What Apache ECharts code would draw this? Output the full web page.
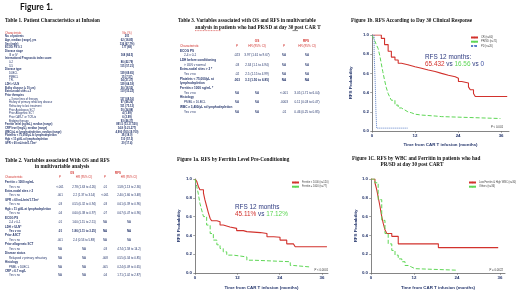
<!DOCTYPE html>
<html>
<head>
<meta charset="utf-8">
<script src="https://cdn.jsdelivr.net/npm/echarts@6/dist/echarts.min.js"></script>
<style>
html, body { margin: 0; padding: 0; background: #fff; }
#chart { width: 520px; height: 297px; }
</style>
</head>
<body>
<div id="chart"></div>
<script>
// Kaplan-Meier points (months, RFS probability)
var crTime = [0, 1.7, 2.6, 3.5, 4.5, 5.4, 6.4, 7.3, 8.2, 10, 12, 13.8, 15.7, 17.6, 19.4, 21.3, 23.2, 24.1, 25, 26.9, 27.4, 28.3, 28.8, 37.7];
var crProb = [1.0, 1.0, 0.965, 0.9, 0.83, 0.77, 0.74, 0.705, 0.69, 0.67, 0.654, 0.635, 0.62, 0.60, 0.58, 0.565, 0.55, 0.515, 0.50, 0.46, 0.43, 0.39, 0.36, 0.36];
var prsdTime = [0, 0.4, 0.75, 1.2, 1.7, 2.2, 2.6, 3.0, 3.5, 4.0, 4.5, 5.0, 5.4, 6.4, 7.3, 8.2, 9.1, 10, 11, 12, 13.8, 17.6, 19.4, 35.8];
var prsdProb = [1.0, 0.97, 0.94, 0.9, 0.86, 0.78, 0.70, 0.62, 0.53, 0.45, 0.39, 0.35, 0.32, 0.27, 0.24, 0.22, 0.2, 0.19, 0.175, 0.166, 0.156, 0.15, 0.13, 0.13];
var pdTime = [0, 0.6, 0.9, 1.1, 1.3, 10];
var pdProb = [1.0, 0.8, 0.5, 0.2, 0.03, 0.03];

var lowFerTime = [0, 0.5, 0.95, 1.4, 2.4, 2.8, 3.3, 3.8, 4.3, 4.7, 6.2, 7.1, 8, 9.9, 11.8, 13.7, 14.7, 18.5, 20.4, 22.3, 24.1, 26, 27.9, 28.4, 37.4];
var lowFerProb = [1.0, 0.975, 0.92, 0.886, 0.85, 0.78, 0.71, 0.64, 0.58, 0.556, 0.546, 0.51, 0.49, 0.475, 0.451, 0.44, 0.43, 0.42, 0.386, 0.38, 0.35, 0.31, 0.296, 0.28, 0.28];
var highFerTime = [0, 0.5, 0.9, 1.4, 1.9, 2.4, 3.3, 4.3, 5.2, 6.2, 7.1, 8, 9, 10.9, 14.7, 16.6, 27, 27.9, 32.7];
var highFerProb = [1.0, 0.92, 0.85, 0.74, 0.67, 0.6, 0.51, 0.42, 0.35, 0.3, 0.26, 0.225, 0.19, 0.171, 0.136, 0.12, 0.08, 0.064, 0.064];

var lowFerHighWbcTime = [0, 1.1, 1.6, 2.0, 2.5, 3.0, 3.4, 3.9, 4.4, 5.8, 7.6, 18.8, 35.5];
var lowFerHighWbcProb = [1.0, 0.96, 0.886, 0.81, 0.71, 0.6, 0.53, 0.46, 0.42, 0.39, 0.31, 0.27, 0.27];
var othersTime = [0, 1.1, 2.0, 3.0, 3.9, 4.8, 5.8, 6.7, 7.6, 8.6, 9.5, 10.4, 11.3, 12.3, 23.9];
var othersProb = [1.0, 0.96, 0.78, 0.56, 0.42, 0.31, 0.24, 0.19, 0.15, 0.12, 0.08, 0.064, 0.046, 0.03, 0.03];

var xTicks = [0, 12, 24, 36];

// table text: [label, col values..., kind]  kind: 'h' header, 'i' indented, 'b' bold
var table1Rows = [
    ['Characteristic', 'No. (%)', 'h'],
    ['No. of patients', '201', 'b'],
    ['Age, median (range), yrs', '62 (18-85)', 'b'],
    ['Sex (male)', '136 (67.7%)', 'b'],
    ['ECOG PS 0-1', '177 (88)', 'b'],
    ['Disease stage', '', 'b'],
    ['III or IV', '168 (84.5)', 'i'],
    ['International Prognostic index score', '', 'b'],
    ['0-2', '86 (42.79)', 'i'],
    ['3-5', '115 (57.21)', 'i'],
    ['Disease type', '', 'b'],
    ['DLBCL', '139 (69.65)', 'i'],
    ['PMBCL', '15 (7.57)', 'i'],
    ['TFL', '54 (27.27)', 'i'],
    ['LDH > ULN', '129 (64.18)', 'b'],
    ['Bulky disease (\u2265 10 cm)', '36 (18.52)', 'b'],
    ['Extra-nodal sites \u2265 2', '110 (55.22)', 'b'],
    ['Prior therapies', '', 'b'],
    ['\u2265 3 prior lines of therapy', '137 (68.16)', 'i'],
    ['History of primary refractory disease', '97 (48.26)', 'i'],
    ['Refractory to last treatment', '151 (75.12)', 'i'],
    ['Prior Autologous SCT', '50 (24.88)', 'i'],
    ['Prior Allogeneic SCT', '4 (1.99)', 'i'],
    ['Prior CAR-T or TCR-tx', '6 (2.99)', 'i'],
    ['Bridging therapy', '93 (46.27)', 'i'],
    ['Ferritin level (ng/mL), median (range)', '891.5 (13-17,530)', 'b'],
    ['CRP level (mg/L), median (range)', '14.8 (0.21-277)', 'b'],
    ['WBC/\u00b5L at lymphodepletion, median (range)', '4,900 (500-19,700)', 'b'],
    ['Platelets < 75,000/\u00b5L at lymphodepletion', '36 (18.0)', 'b'],
    ['Hgb < 11 g/dL at lymphodepletion', '110 (57.3)', 'b'],
    ['GFR < 60 mL/min/1.73m\u00b2', '20 (17.4)', 'b']
];

var table2Rows = [
    ['Ferritin \u2265 1000 ng/mL', '', '', '', '', 'b'],
    ['Yes v no', '<.001', '2.78 (1.63 to 4.26)', '.01', '1.58 (1.13 to 2.36)', 'i'],
    ['Extra-nodal sites > 2', '', '', '', '', 'b'],
    ['Yes v no', '.001', '2.2 (1.37 to 3.54)', '<.001', '2.40 (1.66 to 3.48)', 'i'],
    ['GFR \u2264 60 mL/min/1.73m\u00b2', '', '', '', '', 'b'],
    ['Yes v no', '.03', '0.55 (0.32 to 0.94)', '.03', '0.61 (0.39 to 0.96)', 'i'],
    ['Hgb \u2264 11 g/dL at lymphodepletion', '', '', '', '', 'b'],
    ['Yes v no', '.04', '0.60 (0.38 to 0.97)', '.07', '0.67 (0.47 to 0.96)', 'i'],
    ['ECOG PS', '', '', '', '', 'b'],
    ['2-4 v 0-1', '.01', '1.60 (1.15 to 2.51)', 'NA', 'NA', 'i'],
    ['LDH > ULN*', '', '', '', '', 'b'],
    ['Yes v no', '.01', '1.86 (1.11 to 3.25)', 'NA', 'NA', 'ib'],
    ['Prior ASCT', '', '', '', '', 'b'],
    ['Yes v no', '.001', '2.4 (0.53 to 5.88)', 'NA', 'NA', 'i'],
    ['Prior allogeneic SCT', '', '', '', '', 'b'],
    ['Yes v no', 'NA', 'NA', '.03', '4.74 (1.58 to 14.2)', 'i'],
    ['Disease status', '', '', '', '', 'b'],
    ['Relapsed v primary refractory', 'NA', 'NA', '.008', '0.55 (0.34 to 0.85)', 'i'],
    ['Histology', '', '', '', '', 'b'],
    ['PMBL v DLBCL', 'NA', 'NA', '.005', '0.24 (0.09 to 0.65)', 'i'],
    ['CRP \u2265 6.7 mg/L', '', '', '', '', 'b'],
    ['Yes v no', 'NA', 'NA', '.04', '1.71 (1.02 to 2.87)', 'i']
];

var table3Rows = [
    ['ECOG PS', '', '', '', '', 'b'],
    ['2-4 v 0-1', '.023', '3.97 (1.61 to 9.67)', 'NA', 'NA', 'i'],
    ['LDH before conditioning', '', '', '', '', 'b'],
    ['> ULN v normal', '.03', '2.34 (1.1 to 4.94)', 'NA', 'NA', 'i'],
    ['Extra-nodal sites > 2 *', '', '', '', '', 'b'],
    ['Yes v no', '.02', '2.5 (1.15 to 4.99)', 'NA', 'NA', 'i'],
    ['Platelets < 75,000/\u00b5L at', '.003', '3.3 (1.50 to 6.85)', 'NA', 'NA', 'bb'],
    ['lymphodepletion', '', '', '', '', 'bb'],
    ['Ferritin \u2265 1000 ng/mL *', '', '', '', '', 'b'],
    ['Yes v no', 'NA', 'NA', '<.001', '3.05 (1.71 to 6.04)', 'i'],
    ['Histology', '', '', '', '', 'b'],
    ['PMBL v DLBCL', 'NA', 'NA', '.0003', '0.11 (0.03 to 0.47)', 'i'],
    ['WBC \u2265 3,400/\u00b5L at lymphodepletion', '', '', '', '', 'b'],
    ['Yes v no', 'NA', 'NA', '.01', '0.46 (0.25 to 0.85)', 'i']
];

var NAVY = '#23346b';
var RED = '#d2322d';
var GREEN = '#5ed655';
var BLUE = '#5b7fc7';
var SERIF = '"Liberation Serif", "DejaVu Serif", serif';
var SANS = '"Liberation Sans", Arial, sans-serif';

function pairs(xs, ys){
    var out = [];
    for (var i = 0; i < xs.length; i++){
        out.push([xs[i], ys[i]]);
    }
    return out;
}

function txt(x, y, s, size, opt){
    opt = opt || {};
    return {
        type: 'text', x: x, y: y, silent: true,
        style: {
            text: s, fontSize: size,
            fontFamily: opt.family || SANS,
            fontWeight: opt.weight || 'normal',
            fill: opt.color || NAVY,
            align: opt.align || 'left',
            verticalAlign: 'middle',
            rich: opt.rich
        }
    };
}

var graphics = [];
graphics.push(txt(20, 7, 'Figure 1.', 8.5, {family: 'Lato, "Open Sans", sans-serif', weight: 'bold', color: '#111'}));

// Table 1
graphics.push(txt(5, 21, 'Table 1. Patient Characteristics at Infusion', 5.2, {family: SERIF, weight: 'bold', color: '#111'}));
var t1Step = (143 - 33) / (table1Rows.length - 1);
table1Rows.forEach(function(row, i){
    var y = 33 + i * t1Step;
    var head = row[2] == 'h';
    var c = head ? RED : NAVY;
    var x = row[2] == 'i' ? 9 : 5;
    graphics.push(txt(x, y, row[0], 2.7, {color: c, weight: (head || row[2] == 'i') ? 'normal' : 'bold'}));
    graphics.push(txt(127, y, row[1], 2.7, {color: c, align: 'center', weight: head ? 'normal' : 'bold'}));
});

// Table 2
graphics.push(txt(5, 161, 'Table 2. Variables associated With OS and RFS', 5.2, {family: SERIF, weight: 'bold', color: '#111'}));
graphics.push(txt(62, 167, 'in multivariable analysis', 5.2, {family: SERIF, weight: 'bold', color: '#111', align: 'center'}));
var t2Cols = [60, 84, 105, 129];
graphics.push(txt(72, 173.3, 'OS', 2.9, {color: RED, align: 'center', weight: 'bold'}));
graphics.push(txt(118, 173.3, 'RFS', 2.9, {color: RED, align: 'center', weight: 'bold'}));
graphics.push(txt(5, 177.7, 'Characteristic', 2.9, {color: RED}));
['P', 'HR (95% CI)', 'P', 'HR (95% CI)'].forEach(function(h, j){
    graphics.push(txt(t2Cols[j], 177.7, h, 2.9, {color: RED, align: 'center'}));
});
var t2Step = (275.7 - 182.3) / (table2Rows.length - 1);
table2Rows.forEach(function(row, i){
    var y = 182.3 + i * t2Step;
    var kind = row[5];
    var w = (kind == 'b' || kind == 'ib') ? 'bold' : 'normal';
    graphics.push(txt(kind.charAt(0) == 'i' ? 9 : 5, y, row[0], 2.9, {weight: w}));
    for (var j = 0; j < 4; j++){
        graphics.push(txt(t2Cols[j], y, row[j + 1], 2.9, {align: 'center', weight: kind == 'ib' ? 'bold' : 'normal'}));
    }
});

// Table 3
graphics.push(txt(178, 21, 'Table 3. Variables associated with OS and RFS in multivariable', 5.1, {family: SERIF, weight: 'bold', color: '#111'}));
graphics.push(txt(195, 27.5, 'analysis in patients who had PR/SD at day 30 post CAR T', 5.1, {family: SERIF, weight: 'bold', color: '#111'}));
graphics.push({type: 'line', silent: true, shape: {x1: 195, y1: 30.6, x2: 221, y2: 30.6}, style: {stroke: '#d0312d', lineWidth: 0.6, lineDash: [1, 0.6]}});
graphics.push({type: 'line', silent: true, shape: {x1: 292.5, y1: 30.6, x2: 298, y2: 30.6}, style: {stroke: '#111', lineWidth: 0.5}});
var t3Cols = [237, 257, 284, 307];
graphics.push(txt(257, 41, 'OS', 3.1, {color: RED, align: 'center', weight: 'bold'}));
graphics.push(txt(306, 41, 'RFS', 3.1, {color: RED, align: 'center', weight: 'bold'}));
graphics.push(txt(180, 46, 'Characteristic', 3.1, {color: RED}));
['P', 'HR (95% CI)', 'P', 'HR (95% CI)'].forEach(function(h, j){
    graphics.push(txt(t3Cols[j], 46, h, 3.1, {color: RED, align: 'center'}));
});
var t3Step = (111.7 - 50.7) / (table3Rows.length - 1);
table3Rows.forEach(function(row, i){
    var y = 50.7 + i * t3Step;
    var kind = row[5];
    var w = kind == 'i' ? 'normal' : 'bold';
    graphics.push(txt(kind == 'i' ? 184 : 180, y, row[0], 3.1, {weight: w}));
    for (var j = 0; j < 4; j++){
        graphics.push(txt(t3Cols[j], y + (kind == 'bb' ? 1.5 : 0), row[j + 1], 3.1, {align: 'center', weight: kind == 'bb' ? 'bold' : 'normal'}));
    }
});

// Figure titles
graphics.push(txt(351, 21, 'Figure 1b. RFS According to Day 30 Clinical Response', 5.2, {family: SERIF, weight: 'bold', color: '#111'}));
graphics.push(txt(177, 160, 'Figure 1a. RFS by Ferritin Level Pre-Conditioning', 5.2, {family: SERIF, weight: 'bold', color: '#111'}));
graphics.push(txt(352, 159, 'Figure 1C. RFS by WBC and Ferritin in patients who had', 5.2, {family: SERIF, weight: 'bold', color: '#111'}));
graphics.push(txt(412, 164.5, 'PR/SD at day 30 post CART', 5.2, {family: SERIF, weight: 'bold', color: '#111', align: 'center'}));

// annotations inside the plots
var richColors = {
    r: {fill: RED, fontSize: 6.4, fontFamily: SANS},
    g: {fill: GREEN, fontSize: 6.4, fontFamily: SANS},
    b: {fill: '#3b4fa0', fontSize: 6.4, fontFamily: SANS},
    n: {fill: '#2e3b80', fontSize: 6.4, fontFamily: SANS}
};
graphics.push(txt(425, 57, 'RFS 12 months:', 6.4, {color: '#2e3b80'}));
graphics.push(txt(425, 64, '{r|65.432} {n|vs} {g|16.56} {n|vs} {b|0}', 6.4, {rich: richColors}));
graphics.push(txt(503, 127, 'P < 0.001', 2.8, {color: '#333', align: 'right'}));
graphics.push(txt(235, 207, 'RFS 12 months', 6.4, {color: '#2e3b80'}));
graphics.push(txt(235, 214, '{r|45.11%} {n|vs} {g|17.12%}', 6.4, {rich: richColors}));
graphics.push(txt(328, 270.5, 'P < 0.0001', 2.8, {color: '#333', align: 'right'}));
graphics.push(txt(503, 270.5, 'P = 0.0022', 2.8, {color: '#333', align: 'right'}));

function xAxisFor(idx, max, gap){
    return {
        gridIndex: idx, type: 'value', min: 0, max: max,
        axisLine: {show: true, lineStyle: {color: '#666', width: 0.8}},
        axisTick: {show: true, length: 1.8, customValues: xTicks, lineStyle: {color: '#666', width: 0.6}},
        axisLabel: {customValues: xTicks, fontSize: 4.4, color: NAVY, fontWeight: 'bold', fontFamily: SANS, margin: 3},
        splitLine: {show: false},
        name: 'Time from CAR T infusion (months)', nameLocation: 'middle', nameGap: gap,
        nameTextStyle: {fontSize: 4.4, color: NAVY, fontWeight: 'bold', fontFamily: SANS}
    };
}

function yAxisFor(idx, gap){
    return {
        gridIndex: idx, type: 'value', min: 0, max: 1, interval: 0.2,
        axisLine: {show: true, lineStyle: {color: '#666', width: 0.8}},
        axisTick: {show: true, length: 1.8, lineStyle: {color: '#666', width: 0.6}},
        axisLabel: {fontSize: 4.4, color: NAVY, fontWeight: 'bold', fontFamily: SANS, margin: 3,
            formatter: function(v){ return v.toFixed(1); }},
        splitLine: {show: false},
        name: 'RFS Probability', nameLocation: 'middle', nameGap: gap, nameRotate: 90,
        nameTextStyle: {fontSize: 4.4, color: NAVY, fontWeight: 'bold', fontFamily: SANS}
    };
}

function km(name, idx, xs, ys, color, type){
    return {
        name: name, type: 'line', xAxisIndex: idx, yAxisIndex: idx,
        data: pairs(xs, ys), step: 'end', showSymbol: false, symbol: 'none',
        lineStyle: {color: color, width: type == 'solid' ? 1.1 : 1, type: type},
        itemStyle: {color: color}, silent: true
    };
}

function legendFor(names, left, top){
    return {
        data: names, left: left, top: top, orient: 'vertical',
        itemWidth: 7, itemHeight: 2, itemGap: 1.2, padding: 0, selectedMode: false,
        textStyle: {fontSize: 2.6, color: '#444', fontFamily: SANS, padding: [0, 0, 0, -2]}
    };
}

var chart = echarts.init(document.getElementById('chart'), null, {renderer: 'canvas'});
chart.setOption({
    animation: false,
    backgroundColor: '#fff',
    grid: [
        {left: 372, top: 35, width: 137, height: 96},
        {left: 195, top: 179, width: 133, height: 94},
        {left: 371, top: 179, width: 134, height: 94}
    ],
    xAxis: [xAxisFor(0, 38.2, 12), xAxisFor(1, 37.7, 13), xAxisFor(2, 37.4, 13)],
    yAxis: [yAxisFor(0, 19), yAxisFor(1, 14), yAxisFor(2, 13)],
    legend: [
        legendFor(['CR (n=60)', 'PR/SD (n=71)', 'PD (n=20)'], 470, 36),
        legendFor(['Ferritin < 1000 (n=120)', 'Ferritin \u2265 1000 (n=77)'], 291, 181),
        legendFor(['Low Ferritin & High WBC (n=30)', 'Others (n=36)'], 468, 181)
    ],
    series: [
        km('CR (n=60)', 0, crTime, crProb, RED, 'solid'),
        km('PR/SD (n=71)', 0, prsdTime, prsdProb, GREEN, 'dashed'),
        km('PD (n=20)', 0, pdTime, pdProb, BLUE, 'dotted'),
        km('Ferritin < 1000 (n=120)', 1, lowFerTime, lowFerProb, RED, 'solid'),
        km('Ferritin \u2265 1000 (n=77)', 1, highFerTime, highFerProb, GREEN, 'dashed'),
        km('Low Ferritin & High WBC (n=30)', 2, lowFerHighWbcTime, lowFerHighWbcProb, RED, 'solid'),
        km('Others (n=36)', 2, othersTime, othersProb, GREEN, 'dashed')
    ],
    graphic: graphics
});
</script>
</body>
</html>
